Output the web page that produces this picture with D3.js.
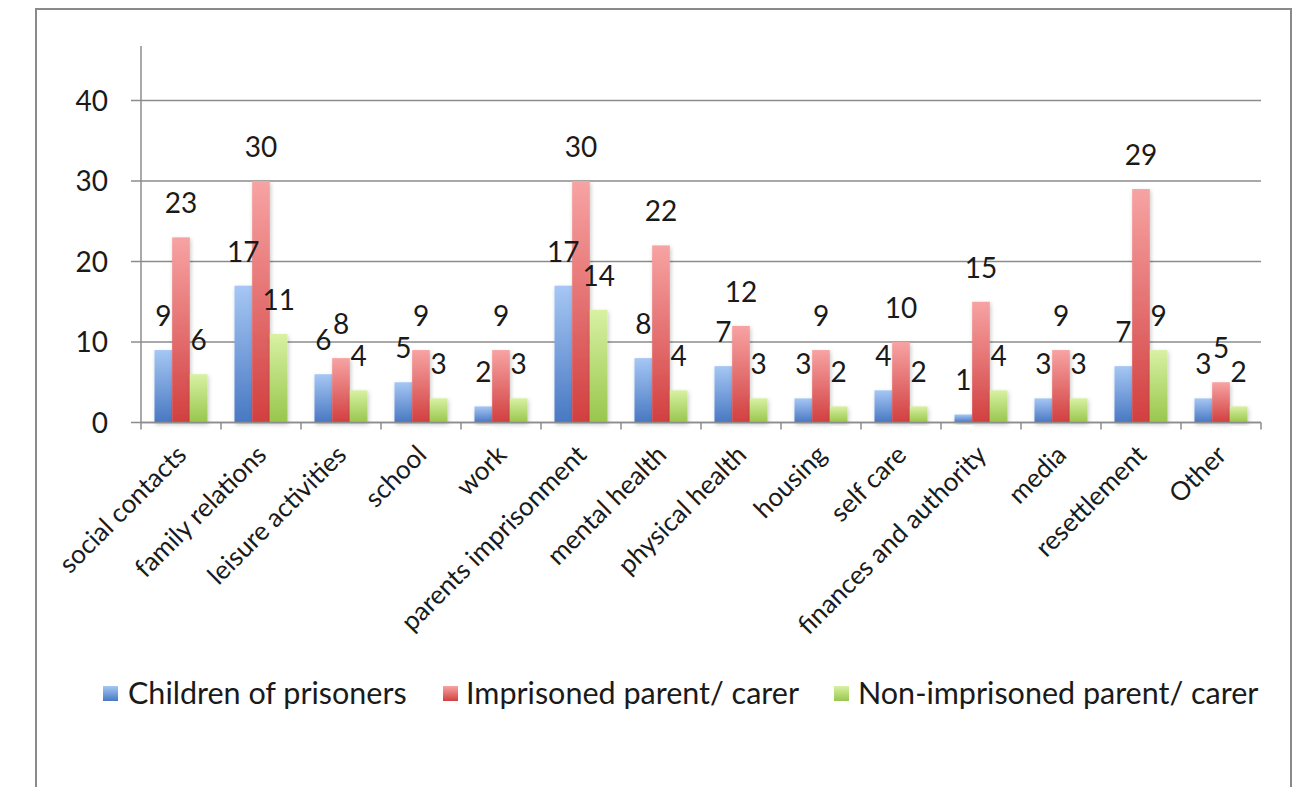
<!DOCTYPE html>
<html>
<head>
<meta charset="utf-8">
<script src="https://cdn.jsdelivr.net/npm/d3@7"></script>
<style>
  html, body { margin: 0; padding: 0; background: #fff; }
  svg { display: block; }
  text { font-family: Lato, "Open Sans", sans-serif; fill: #1a1a1a; }
</style>
</head>
<body>
<svg id="chart" width="1303" height="787"></svg>
<script>
// Survey topics and the number of mentions from each respondent group
const categories = [
  "social contacts", "family relations", "leisure activities", "school", "work",
  "parents imprisonment", "mental health", "physical health", "housing", "self care",
  "finances and authority", "media", "resettlement", "Other"
];
const seriesNames = ["Children of prisoners", "Imprisoned parent/ carer", "Non-imprisoned parent/ carer"];
const childrenValues    = [9, 17, 6, 5, 2, 17, 8, 7, 3, 4, 1, 3, 7, 3];
const imprisonedValues  = [23, 30, 8, 9, 9, 30, 22, 12, 9, 10, 15, 9, 29, 5];
const nonImprisonedValues = [6, 11, 4, 3, 3, 14, 4, 3, 2, 2, 4, 3, 9, 2];
const yTicks = [0, 10, 20, 30, 40];

const seriesValues = [childrenValues, imprisonedValues, nonImprisonedValues];
const gradients = [
  { id: "gBlue",  top: "#a6c7f5", bottom: "#4878c2" },
  { id: "gRed",   top: "#f7a3a3", bottom: "#d23f3f" },
  { id: "gGreen", top: "#d8f1a3", bottom: "#98c64c" }
];

const svg = d3.select("#chart");
const margin = { left: 141, right: 1261, top: 46, bottom: 422.5 };

// Outer frame
svg.append("rect")
  .attr("x", 36).attr("y", 9)
  .attr("width", 1255).attr("height", 800)
  .attr("fill", "none").attr("stroke", "#8a8a8a").attr("stroke-width", 2);

const defs = svg.append("defs");
gradients.forEach(g => {
  const lg = defs.append("linearGradient").attr("id", g.id)
    .attr("x1", 0).attr("y1", 0).attr("x2", 0).attr("y2", 1);
  lg.append("stop").attr("offset", "0%").attr("stop-color", g.top);
  lg.append("stop").attr("offset", "100%").attr("stop-color", g.bottom);
});
const shadow = defs.append("filter").attr("id", "barShadow")
  .attr("x", "-50%").attr("y", "-10%").attr("width", "200%").attr("height", "130%");
shadow.append("feDropShadow").attr("dx", 1).attr("dy", 2)
  .attr("stdDeviation", 2).attr("flood-color", "#000").attr("flood-opacity", 0.22);

const y = d3.scaleLinear().domain([0, 40]).range([margin.bottom, 100.5]);
const x0 = d3.scaleBand().domain(categories)
  .range([margin.left, margin.right])
  .paddingInner(0.3375).paddingOuter(0.16875);
const x1 = d3.scaleBand().domain(d3.range(seriesNames.length))
  .range([0, x0.bandwidth()]);
const step = x0.step();
const gapHalf = (step - x0.bandwidth()) / 2;

// Gridlines with small ticks to the left of the value axis
svg.append("g").selectAll("line").data(yTicks).join("line")
  .attr("x1", margin.left - 10).attr("x2", margin.right)
  .attr("y1", d => y(d)).attr("y2", d => y(d))
  .attr("stroke", "#8c8c8c").attr("stroke-width", 1.5);

// Value axis line
svg.append("line")
  .attr("x1", margin.left).attr("x2", margin.left)
  .attr("y1", margin.top).attr("y2", margin.bottom)
  .attr("stroke", "#8c8c8c").attr("stroke-width", 1.5);

// Value axis labels
svg.append("g").selectAll("text").data(yTicks).join("text")
  .attr("x", 108).attr("y", d => y(d) + 10)
  .attr("text-anchor", "end")
  .attr("font-size", 28)
  .text(d => d);

// Bars
const groups = svg.append("g").selectAll("g").data(categories).join("g")
  .attr("transform", c => `translate(${x0(c)},0)`);

groups.selectAll("rect")
  .data((c, i) => seriesValues.map((vals, s) => ({ s, v: vals[i] })))
  .join("rect")
  .attr("x", d => x1(d.s))
  .attr("width", x1.bandwidth())
  .attr("y", d => y(d.v))
  .attr("height", d => y(0) - y(d.v))
  .attr("fill", d => `url(#${gradients[d.s].id})`)
  .attr("filter", "url(#barShadow)");

// Category axis line and tick marks at band boundaries
svg.append("line")
  .attr("x1", margin.left).attr("x2", margin.right)
  .attr("y1", y(0)).attr("y2", y(0))
  .attr("stroke", "#8c8c8c").attr("stroke-width", 1.5);
const boundaries = categories.map(c => x0(c) - gapHalf).concat([margin.right]);
svg.append("g").selectAll("line").data(boundaries).join("line")
  .attr("x1", d => d).attr("x2", d => d)
  .attr("y1", y(0)).attr("y2", y(0) + 7)
  .attr("stroke", "#8c8c8c").attr("stroke-width", 1.5);

// Data labels above each bar
groups.selectAll("text.value")
  .data((c, i) => seriesValues.map((vals, s) => ({ s, v: vals[i] })))
  .join("text")
  .attr("class", "value")
  .attr("x", d => x1(d.s) + x1.bandwidth() / 2)
  .attr("y", d => y(d.v) - 24)
  .attr("text-anchor", "middle")
  .attr("font-size", 28)
  .text(d => d.v);

// Rotated category labels
svg.append("g").selectAll("text").data(categories).join("text")
  .attr("transform", c => `translate(${x0(c) + x0.bandwidth() / 2 + 7},${y(0) + 34}) rotate(-45)`)
  .attr("text-anchor", "end")
  .attr("font-size", 26)
  .text(c => c);

// Legend
const legendItems = [
  { x: 103, textX: 128 },
  { x: 443, textX: 466 },
  { x: 834, textX: 858 }
];
const legend = svg.append("g").selectAll("g").data(seriesNames).join("g");
legend.append("rect")
  .attr("x", (d, i) => legendItems[i].x).attr("y", 686)
  .attr("width", 15).attr("height", 15)
  .attr("fill", (d, i) => `url(#${gradients[i].id})`);
legend.append("text")
  .attr("x", (d, i) => legendItems[i].textX).attr("y", 704)
  .attr("font-size", 30.5)
  .text(d => d);
</script>
</body>
</html>
